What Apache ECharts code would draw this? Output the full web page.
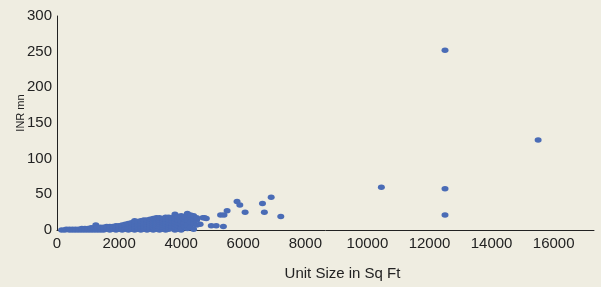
<!DOCTYPE html>
<html>
<head>
<meta charset="utf-8">
<script src="https://cdn.jsdelivr.net/npm/echarts@6/dist/echarts.min.js"></script>
<style>
	html, body { margin: 0; padding: 0; background: #efede1; }
	#chart { width: 601px; height: 287px; }
</style>
</head>
<body>
<div id="chart"></div>
<script>
// [unit size in sq ft, price in INR mn]
let denseCore = [
	[150,0],[250,0],[300,1],[400,0],[400,1],[500,0],[500,1],[600,0],[600,1],[700,0],[700,1],
	[800,0],[800,2],[900,0],[900,2],[1000,0],[1000,2],[1100,0],[1100,2],[1100,3],
	[1200,0],[1200,2],[1200,3],[1250,7],[1300,0],[1300,2],[1300,4],
	[1400,0],[1400,2],[1400,4],[1500,0],[1500,2],[1500,4],[1600,1],[1600,3],[1600,5],
	[1700,0],[1700,2],[1700,4],[1700,5],[1800,1],[1800,3],[1800,5],
	[1900,0],[1900,2],[1900,4],[1900,6],[2000,1],[2000,3],[2000,5],[2000,6],
	[2100,0],[2100,2],[2100,4],[2100,6],[2100,7],[2200,1],[2200,3],[2200,5],[2200,7],[2200,8],
	[2300,0],[2300,2],[2300,4],[2300,6],[2300,8],[2300,9],
	[2400,1],[2400,3],[2400,5],[2400,7],[2400,9],[2400,10],
	[2500,0],[2500,2],[2500,4],[2500,6],[2500,8],[2500,11],[2500,13],
	[2600,1],[2600,3],[2600,5],[2600,7],[2600,9],[2600,12],
	[2700,0],[2700,2],[2700,4],[2700,6],[2700,8],[2700,10],[2700,13],
	[2800,1],[2800,3],[2800,5],[2800,7],[2800,9],[2800,11],[2800,14],
	[2900,0],[2900,2],[2900,4],[2900,6],[2900,8],[2900,11],[2900,14],
	[3000,1],[3000,3],[3000,5],[3000,7],[3000,10],[3000,13],[3000,15],
	[3100,0],[3100,2],[3100,4],[3100,7],[3100,10],[3100,13],[3100,16],
	[3200,1],[3200,3],[3200,6],[3200,9],[3200,12],[3200,15],[3200,17],
	[3300,0],[3300,2],[3300,5],[3300,8],[3300,11],[3300,14],[3300,17],
	[3400,1],[3400,4],[3400,7],[3400,10],[3400,13],[3400,16],
	[3500,0],[3500,3],[3500,6],[3500,9],[3500,12],[3500,15],[3500,18],
	[3600,1],[3600,4],[3600,7],[3600,10],[3600,14],[3600,18],
	[3700,2],[3700,5],[3700,9],[3700,13],[3700,17],
	[3800,0],[3800,4],[3800,8],[3800,12],[3800,16],[3800,22],
	[3900,1],[3900,6],[3900,10],[3900,14],[3900,19],
	[4000,0],[4000,3],[4000,8],[4000,12],[4000,20],
	[4100,5],[4100,10],[4100,15],[4100,19],[4200,2],[4200,7],[4200,14],[4200,23],
	[4300,4],[4300,11],[4300,18],[4300,21],[4400,1],[4400,9],[4400,16],[4400,20],
	[4500,7],[4500,14],[4500,17]
]
let spread = [
	[4610,8],[4700,17],[4750,17],[4810,16],[4970,6],[5130,6],[5360,5],
	[5270,21],[5380,21],[5480,27],[5800,40],[5890,35],[6060,25],
	[6620,37],[6680,25],[6900,46],[7210,19]
]
let outliers = [
	[10450,60],[12500,252],[12500,58],[12500,21],[15500,126]
]
let xTicks = { min: 0, max: 17300, interval: 2000 }
let yTicks = { min: 0, max: 300, interval: 50 }

let font = "'Liberation Sans', Arial, sans-serif"
let ink = '#222222'

let myChart = echarts.init(document.getElementById('chart'))
let option = {
	backgroundColor: '#efede1',
	animation: false,
	grid: {
		left: 57,
		right: 7,
		top: 16,
		bottom: 57,
		containLabel: false,
		outerBoundsMode: 'none'
	},
	xAxis: {
		type: 'value',
		min: xTicks.min,
		max: xTicks.max,
		interval: xTicks.interval,
		name: 'Unit Size in Sq Ft',
		nameLocation: 'middle',
		nameGap: 36,
		nameMoveOverlap: false,
		nameTextStyle: { color: ink, fontFamily: font, fontSize: 15, padding: [0, 0, 0, 34] },
		axisLine: { show: true, lineStyle: { color: ink, width: 1 } },
		axisTick: { show: false },
		splitLine: { show: false },
		axisLabel: {
			color: ink, fontFamily: font, fontSize: 15, margin: 6, showMaxLabel: false,
			formatter: function (v) { return String(v) }
		}
	},
	yAxis: {
		type: 'value',
		min: yTicks.min,
		max: yTicks.max,
		interval: yTicks.interval,
		name: 'INR mn',
		nameLocation: 'middle',
		nameRotate: 90,
		nameGap: 31,
		nameMoveOverlap: false,
		nameTextStyle: { color: ink, fontFamily: font, fontSize: 11, padding: [0, 0, 0, 20] },
		axisLine: { show: true, lineStyle: { color: ink, width: 1 } },
		axisTick: { show: false },
		splitLine: { show: false },
		axisLabel: { color: ink, fontFamily: font, fontSize: 15, margin: 5, padding: [0, 0, 6, 0] }
	},
	series: [
		{
			type: 'scatter',
			symbol: 'circle',
			symbolSize: [7, 5.5],
			itemStyle: { color: '#4a6cb6', opacity: 1 },
			data: denseCore.concat(spread, outliers)
		}
	]
}
myChart.setOption(option)
</script>
</body>
</html>
